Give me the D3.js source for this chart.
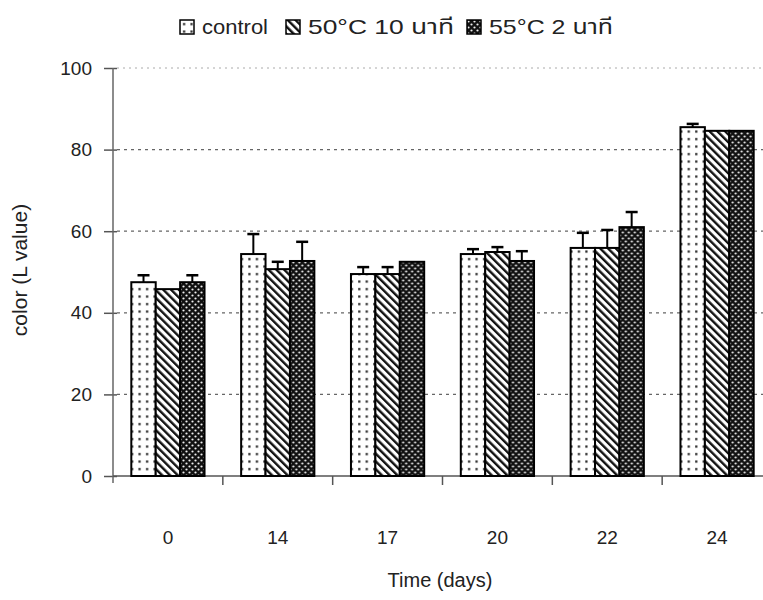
<!DOCTYPE html>
<html>
<head>
<meta charset="utf-8">
<script src="https://cdn.jsdelivr.net/npm/d3@7"></script>
<style>
  body { margin: 0; background: #fff; }
  svg { display: block; font-family: "Liberation Sans", Arial, "Noto Sans Thai", "DejaVu Sans", sans-serif; }
</style>
</head>
<body>
<svg id="chart" width="763" height="600"></svg>
<script>
// values
const days = ["0", "14", "17", "20", "22", "24"];
const seriesNames = ["control", "50°C 10 นาที", "55°C 2 นาที"];
const control = [47.5, 54.4, 49.5, 54.4, 55.9, 85.5];
const controlErr = [1.7, 4.9, 1.7, 1.2, 3.7, 0.8];
const t50 = [45.8, 50.7, 49.5, 54.9, 55.9, 84.6];
const t50Err = [0, 1.8, 1.7, 1.2, 4.4, 0];
const t55 = [47.5, 52.7, 52.5, 52.7, 61.0, 84.6];
const t55Err = [1.7, 4.7, 0, 2.4, 3.7, 0];
const yTicks = [0, 20, 40, 60, 80, 100];

const values = [control, t50, t55];
const errs = [controlErr, t50Err, t55Err];
const fills = ["url(#pDots)", "url(#pHatch)", "url(#pDark)"];

const svg = d3.select("#chart");
const plotL = 113, plotR = 772, plotT = 68, plotB = 476;

// patterns
const defs = svg.append("defs");
let p = defs.append("pattern").attr("id", "pDots").attr("patternUnits", "userSpaceOnUse")
    .attr("width", 7.5).attr("height", 7.5);
p.append("rect").attr("width", 7.5).attr("height", 7.5).attr("fill", "#fff");
p.append("rect").attr("x", 3).attr("y", 3).attr("width", 2.2).attr("height", 2.2).attr("fill", "#222");

p = defs.append("pattern").attr("id", "pHatch").attr("patternUnits", "userSpaceOnUse")
    .attr("width", 5.5).attr("height", 5.5).attr("patternTransform", "rotate(-45)");
p.append("rect").attr("width", 5.5).attr("height", 5.5).attr("fill", "#fff");
p.append("rect").attr("x", 0).attr("y", 0).attr("width", 2.4).attr("height", 5.5).attr("fill", "#111");

p = defs.append("pattern").attr("id", "pDark").attr("patternUnits", "userSpaceOnUse")
    .attr("width", 6).attr("height", 6);
p.append("rect").attr("width", 6).attr("height", 6).attr("fill", "#111");
p.append("circle").attr("cx", 1.5).attr("cy", 1.5).attr("r", 1.1).attr("fill", "#eee");
p.append("circle").attr("cx", 4.5).attr("cy", 4.5).attr("r", 1.1).attr("fill", "#eee");

// scales
const x0 = d3.scaleBand().domain(days).range([plotL, plotR]).padding(0);
const x1 = d3.scaleBand().domain(d3.range(3)).range([0, x0.bandwidth()]).paddingInner(0).paddingOuter(0.75);
const y = d3.scaleLinear().domain([0, 100]).range([plotB, plotT]);

// gridlines
svg.append("g").selectAll("line").data(yTicks.filter(d => d > 0)).enter().append("line")
    .attr("x1", plotL + 4).attr("x2", 763)
    .attr("y1", d => y(d)).attr("y2", d => y(d))
    .attr("stroke", d => d === 100 ? "#aaa" : "#666")
    .attr("stroke-width", d => d === 100 ? 1 : 1.3)
    .attr("stroke-dasharray", d => d === 100 ? "2,4" : "3,4");

// y axis
const yAxis = svg.append("g").attr("transform", `translate(${plotL},0)`)
    .call(d3.axisLeft(y).tickValues(yTicks).tickSize(9).tickPadding(12));
yAxis.select(".domain").remove();
yAxis.append("line").attr("x1", 0).attr("x2", 0).attr("y1", plotT).attr("y2", plotB + 7)
    .attr("stroke", "#666").attr("stroke-width", 1.5);
yAxis.selectAll(".tick line").attr("x2", -9).attr("x1", 4).attr("stroke", "#555").attr("stroke-width", 1.5);
yAxis.selectAll(".tick text").attr("font-size", 19).attr("fill", "#222").attr("font-family", null);

// x axis
const xAxis = svg.append("g").attr("transform", `translate(0,${plotB})`);
xAxis.append("line").attr("x1", plotL).attr("x2", 763).attr("stroke", "#555").attr("stroke-width", 1.5);
xAxis.selectAll("line.tk").data(days.slice(1)).enter().append("line").attr("class", "tk")
    .attr("x1", d => x0(d)).attr("x2", d => x0(d)).attr("y1", 0).attr("y2", 9)
    .attr("stroke", "#555").attr("stroke-width", 1.5);
xAxis.selectAll("text").data(days).enter().append("text")
    .attr("x", d => x0(d) + x0.bandwidth() / 2).attr("y", 68)
    .attr("text-anchor", "middle").attr("font-size", 19).attr("fill", "#222").text(d => d);

// bars
const groups = svg.append("g").selectAll("g").data(days).enter().append("g")
    .attr("transform", d => `translate(${x0(d)},0)`);
groups.selectAll("rect").data((d, i) => values.map((v, s) => ({ s, v: v[i], e: errs[s][i] })))
    .enter().append("rect")
    .attr("x", d => x1(d.s)).attr("width", x1.bandwidth())
    .attr("y", d => y(d.v)).attr("height", d => plotB - y(d.v))
    .attr("fill", d => fills[d.s]).attr("stroke", "#000").attr("stroke-width", 2);

// error bars
const eb = groups.selectAll("g.err").data((d, i) => values.map((v, s) => ({ s, v: v[i], e: errs[s][i] })).filter(d => d.e > 0))
    .enter().append("g").attr("class", "err");
eb.append("line")
    .attr("x1", d => x1(d.s) + x1.bandwidth() / 2).attr("x2", d => x1(d.s) + x1.bandwidth() / 2)
    .attr("y1", d => y(d.v)).attr("y2", d => y(d.v + d.e))
    .attr("stroke", "#000").attr("stroke-width", 2);
eb.append("line")
    .attr("x1", d => x1(d.s) + x1.bandwidth() / 2 - 6).attr("x2", d => x1(d.s) + x1.bandwidth() / 2 + 6)
    .attr("y1", d => y(d.v + d.e)).attr("y2", d => y(d.v + d.e))
    .attr("stroke", "#000").attr("stroke-width", 2.5);

// axis titles
svg.append("text").attr("x", 440).attr("y", 587).attr("text-anchor", "middle")
    .attr("font-size", 20).attr("fill", "#222").text("Time (days)");
svg.append("text").attr("transform", "translate(27,270) rotate(-90)").attr("text-anchor", "middle")
    .attr("font-size", 21).attr("fill", "#222").text("color (L value)");

// legend
const legX = [180, 286, 467];
const legW = [66, 146, 124];
const leg = svg.append("g").selectAll("g").data(seriesNames).enter().append("g")
    .attr("transform", (d, i) => `translate(${legX[i]},20)`);
leg.append("rect").attr("width", 14).attr("height", 14).attr("fill", (d, i) => fills[i])
    .attr("stroke", "#000").attr("stroke-width", 1.5);
leg.append("text").attr("x", 22).attr("y", 14)
    .attr("textLength", (d, i) => legW[i]).attr("lengthAdjust", "spacingAndGlyphs")
    .attr("font-size", 21).attr("fill", "#222").text(d => d);
</script>
</body>
</html>
